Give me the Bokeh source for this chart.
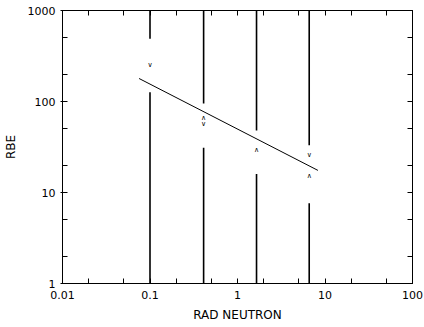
from bokeh.plotting import figure
from bokeh.models import LogAxis, FixedTicker
from bokeh.core.properties import value
from bokeh.embed import file_html
from bokeh.resources import INLINE

# ---- data ----
x_major = [0.01, 0.1, 1, 10, 100]
x_minor = [0.02, 0.05, 0.2, 0.5, 2, 5, 20, 50]
x_labels = ["0.01", "0.1", "1", "10", "100"]
y_major = [1, 10, 100, 1000]
y_minor = [2, 5, 20, 50, 200, 500]
y_labels = ["1", "10", "100", "1000"]

# vertical range bars (dose positions) with the gaps around the points
bar_dose = [0.1, 0.41, 1.65, 6.6]
bar_upper_end = [490, 95, 48, 33]      # upper segment runs from this value to 1000
bar_lower_start = [126, 31, 16, 7.6]   # lower segment runs from 1 to this value

# points: "v" (upper) and "^" (lower) markers
down_dose = [0.1, 0.41, 6.6]
down_rbe = [249, 56, 26]
up_dose = [0.41, 1.65, 6.6]
up_rbe = [66, 29, 15]

# fitted regression line
fit_dose = [0.075, 8.3]
fit_rbe = [179, 17.5]

FONT = "DejaVu Sans"

p = figure(width=424, height=327, x_axis_type="log", y_axis_type="log",
           x_range=(0.01, 100), y_range=(1, 1000),
           output_backend="svg", toolbar_location=None,
           min_border_left=60, min_border_right=12,
           min_border_top=10, min_border_bottom=44)
p.grid.visible = False
p.outline_line_color = "black"
p.background_fill_color = "white"
p.border_fill_color = "white"

xt = FixedTicker(ticks=x_major, minor_ticks=x_minor)
yt = FixedTicker(ticks=y_major, minor_ticks=y_minor)

top = LogAxis()
right = LogAxis()
p.add_layout(top, "above")
p.add_layout(right, "right")

for ax in p.xaxis:
    ax.ticker = xt
for ax in p.yaxis:
    ax.ticker = yt

for ax in list(p.xaxis) + list(p.yaxis):
    ax.axis_line_color = "black"
    ax.major_tick_line_color = "black"
    ax.minor_tick_line_color = "black"
    ax.major_tick_in = 5
    ax.major_tick_out = 0
    ax.minor_tick_in = 5
    ax.minor_tick_out = 0
    ax.major_label_text_font = FONT
    ax.major_label_text_font_size = "11px"
    ax.major_label_text_color = "black"

top.major_label_overrides = {v: "" for v in x_major}
top.major_label_standoff = 0
right.major_label_overrides = {v: "" for v in y_major}
right.major_label_standoff = 0

bx = p.below[0]
bx.major_label_overrides = {v: s for v, s in zip(x_major, x_labels)}
bx.major_label_standoff = 7
bx.axis_label = "RAD NEUTRON"
bx.axis_label_text_font = FONT
bx.axis_label_text_font_size = "12px"
bx.axis_label_text_font_style = "normal"
bx.axis_label_text_color = "black"
bx.axis_label_standoff = 6

ly = p.left[0]
ly.major_label_overrides = {v: s for v, s in zip(y_major, y_labels)}
ly.major_tick_out = 2
ly.major_label_standoff = 5
ly.axis_label = "RBE"
ly.axis_label_text_font = FONT
ly.axis_label_text_font_size = "12px"
ly.axis_label_text_font_style = "normal"
ly.axis_label_text_color = "black"
ly.axis_label_standoff = 7

# range bars
p.segment(x0=bar_dose, y0=bar_upper_end, x1=bar_dose, y1=[1000] * len(bar_dose),
          line_color="black", line_width=1.6)
p.segment(x0=bar_dose, y0=[1] * len(bar_dose), x1=bar_dose, y1=bar_lower_start,
          line_color="black", line_width=1.6)

# regression line
p.line(fit_dose, fit_rbe, line_color="black", line_width=1)

# markers
p.text(x=down_dose, y=down_rbe, text=["\u2228"] * len(down_dose),
       text_font=value(FONT), text_font_size="7px",
       text_align="center", text_baseline="middle", text_color="black")
p.text(x=up_dose, y=up_rbe, text=["\u2227"] * len(up_dose),
       text_font=value(FONT), text_font_size="7px",
       text_align="center", text_baseline="middle", text_color="black")

open("out.html", "w").write(file_html(p, INLINE))
